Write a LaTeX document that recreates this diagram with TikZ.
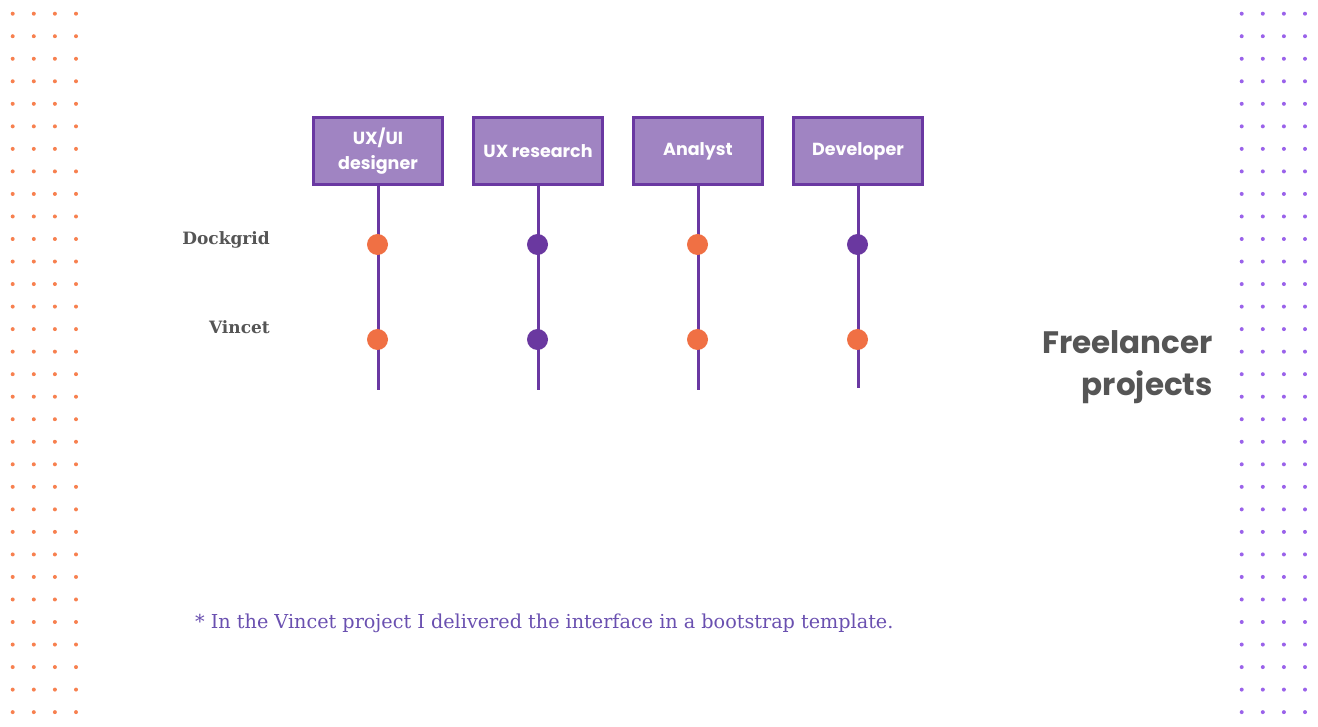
\documentclass[tikz,border=0pt]{standalone}
\usepackage{fontspec}
\setmainfont{DejaVu Serif}
\newfontfamily\boxfont{Poppins}
\newfontfamily\slabfont{DejaVu Serif}
\definecolor{boxfill}{HTML}{A084C2}
\definecolor{boxline}{HTML}{6A38A2}
\definecolor{dotorange}{HTML}{F07044}
\definecolor{dotpurple}{HTML}{6A38A0}
\definecolor{gridorange}{HTML}{F7804F}
\definecolor{gridpurple}{HTML}{9A62EA}
\definecolor{labelgray}{HTML}{555555}
\definecolor{notepurple}{HTML}{6A50B0}
\tikzset{
  rolebox/.style={draw=boxline, line width=2.6pt, fill=boxfill, minimum width=129pt, minimum height=67pt, inner sep=0pt,
    text=white, font=\boxfont\bfseries\fontsize{17.5}{25}\selectfont, align=center},
  stem/.style={draw=boxline, line width=3pt},
  hit/.style={circle, inner sep=0pt, minimum size=21pt},
  hitorange/.style={hit, fill=dotorange},
  hitpurple/.style={hit, fill=dotpurple},
  projlabel/.style={text=labelgray, font=\slabfont\bfseries\fontsize{17}{20}\selectfont, anchor=base east, inner sep=0pt},
}
\begin{document}
\begin{tikzpicture}[x=1pt,y=-1pt]
\useasboundingbox (0,0) rectangle (1318,727);
% dot grids
\foreach \r in {0,...,31}{
  \foreach \c in {0,...,3}{
    \fill[gridorange] (12.7+21.1*\c, 13.7+22.53*\r) circle (2);
    \fill[gridpurple] (1241.7+21.1*\c, 13.7+22.53*\r) circle (2);
  }
}
% boxes
\node[rolebox] (b1) at (378,151) {UX/UI\\designer};
\node[rolebox] (b2) at (538,151) {UX research};
\node[rolebox] (b3) at (698,151) {Analyst};
\node[rolebox] (b4) at (858,151) {Developer};
% stem ends
\coordinate (e1) at (377.5,390);
\coordinate (e2) at (537.5,390);
\coordinate (e3) at (697.5,390);
\coordinate (e4) at (857.5,388);
\foreach \i in {1,2,3,4}{
  \draw[stem] (b\i.south) -- (b\i.south |- e\i);
}
% dots
\node[hitorange] (d11) at (377.5,244.5) {};
\node[hitpurple] (d12) at (537.5,244.5) {};
\node[hitorange] (d13) at (697.5,244.5) {};
\node[hitpurple] (d14) at (857.5,244.5) {};
\node[hitorange] (d21) at (377.5,339.5) {};
\node[hitpurple] (d22) at (537.5,339.5) {};
\node[hitorange] (d23) at (697.5,339.5) {};
\node[hitorange] (d24) at (857.5,339.5) {};
% row labels
\node[projlabel] (l1) at (270,245) {Dockgrid};
\node[projlabel] (l2) at (270,334) {Vincet};
% title
\node[text=labelgray, font=\boxfont\bfseries\fontsize{31}{42}\selectfont, align=right, anchor=north east, inner sep=0pt] (title) at (1213,330) {Freelancer\\projects};
% footnote
\node[text=notepurple, font=\fontsize{19.2}{23}\selectfont, anchor=base west, inner sep=0pt] (note) at (195,628) {* In the Vincet project I delivered the interface in a bootstrap template.};
\end{tikzpicture}
\end{document}
